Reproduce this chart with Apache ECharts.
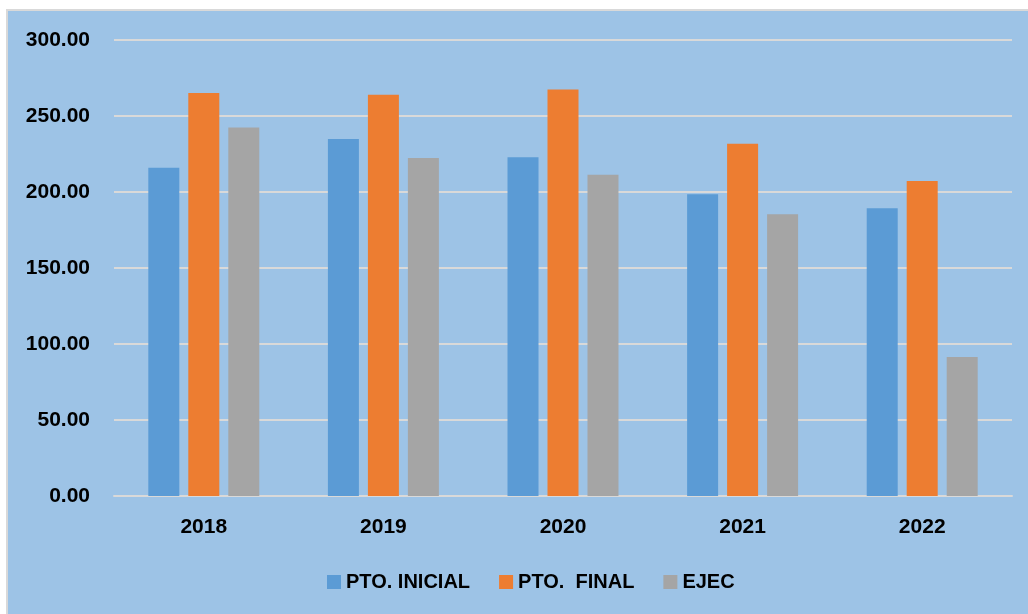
<!DOCTYPE html>
<html>
<head>
<meta charset="utf-8">
<script src="https://cdn.jsdelivr.net/npm/echarts@6/dist/echarts.min.js"></script>
<style>
  body { margin: 0; background: #fff; }
  #panel {
    position: absolute; left: 6px; top: 9px; width: 1030px; height: 620px;
    background: #9DC3E6; border-left: 2px solid #D9D9D9; border-top: 2px solid #D9D9D9;
  }
  #chart { position: absolute; left: 0; top: 0; width: 1028px; height: 614px; }
</style>
</head>
<body>
<div id="panel"></div>
<div id="chart"></div>
<script>
const years = ['2018', '2019', '2020', '2021', '2022'];
const ptoInicial = [216.0, 234.9, 222.8, 198.5, 189.3];
const ptoFinal = [265.1, 264.0, 267.5, 231.8, 207.2];
const ejec = [242.5, 222.4, 211.4, 185.3, 91.4];

var chartDom = document.getElementById('chart');
var myChart = echarts.init(chartDom);
var font = '"Liberation Sans", Arial, sans-serif';
var option;

option = {
  backgroundColor: 'transparent',
  animation: false,
  textStyle: { fontFamily: font, fontWeight: 'bold', color: '#000' },
  grid: {
    left: 114,
    right: 16,
    top: 40,
    bottom: 118
  },
  legend: {
    left: 322,
    top: 567,
    itemWidth: 14,
    itemHeight: 14,
    itemGap: 29,
    icon: 'rect',
    textStyle: { fontFamily: font, fontWeight: 'bold', fontSize: 20, color: '#000' },
    data: ['PTO. INICIAL', 'PTO.  FINAL', 'EJEC']
  },
  xAxis: {
    type: 'category',
    data: years,
    axisTick: { show: false },
    axisLine: { lineStyle: { color: '#D9D9D9', width: 2 } },
    axisLabel: { fontFamily: font, fontWeight: 'bold', fontSize: 21, color: '#000', margin: 21 }
  },
  yAxis: {
    type: 'value',
    min: 0,
    max: 300,
    interval: 50,
    axisLine: { show: false },
    axisTick: { show: false },
    splitLine: { lineStyle: { color: '#D9D9D9', width: 2 } },
    axisLabel: {
      fontFamily: font, fontWeight: 'bold', fontSize: 21, color: '#000', margin: 24,
      formatter: function (v) { return v.toFixed(2); }
    }
  },
  series: [
    {
      name: 'PTO. INICIAL',
      type: 'bar',
      barWidth: 31,
      barGap: '29%',
      itemStyle: { color: '#5B9BD5' },
      data: ptoInicial
    },
    {
      name: 'PTO.  FINAL',
      type: 'bar',
      barWidth: 31,
      barGap: '29%',
      itemStyle: { color: '#ED7D31' },
      data: ptoFinal
    },
    {
      name: 'EJEC',
      type: 'bar',
      barWidth: 31,
      barGap: '29%',
      itemStyle: { color: '#A5A5A5' },
      data: ejec
    }
  ]
};

option && myChart.setOption(option);
</script>
</body>
</html>
